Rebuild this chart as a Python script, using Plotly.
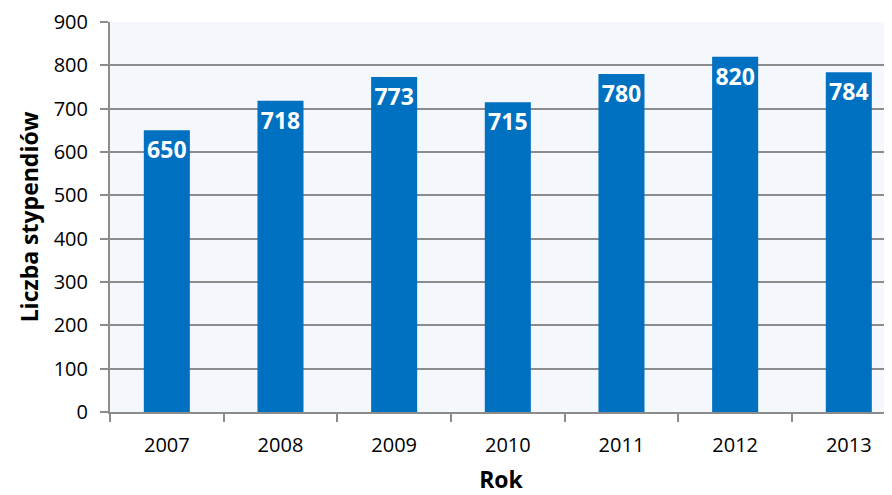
import plotly.graph_objects as go

years = ['2007', '2008', '2009', '2010', '2011', '2012', '2013']
stypendia = [650, 718, 773, 715, 780, 820, 784]
y_ticks = [0, 100, 200, 300, 400, 500, 600, 700, 800, 900]

font = 'Open Sans'
grid = '#8C8C8C'

fig = go.Figure()
fig.add_trace(go.Bar(
    x=years,
    y=stypendia,
    width=0.405,
    marker=dict(color='#0070C0', line=dict(width=0)),
    text=[str(v) for v in stypendia],
    textposition='inside',
    insidetextanchor='end',
    textangle=0,
    insidetextfont=dict(family=font, size=23, color='white', weight='bold'),
    cliponaxis=False,
))

# page body has an 8px margin, so the figure is a bit smaller than the window
fig.update_layout(
    width=884,
    height=487,
    margin=dict(l=102, r=0, t=14, b=83),
    paper_bgcolor='white',
    plot_bgcolor='#F4F8FC',
    font=dict(family=font, color='black'),
    showlegend=False,
)
fig.update_xaxes(
    type='category',
    range=[-0.5, 6.38],
    automargin=False,
    showline=True,
    linecolor=grid,
    linewidth=2,
    ticks='outside',
    tickson='boundaries',
    ticklen=8,
    tickcolor=grid,
    tickwidth=1.5,
    ticklabelstandoff=14,
    showgrid=False,
    tickfont=dict(size=20),
    title=dict(text='Rok', font=dict(size=23, weight='bold'), standoff=24),
)
fig.update_yaxes(
    range=[0, 900],
    tickvals=y_ticks,
    automargin=False,
    showline=True,
    linecolor=grid,
    linewidth=2,
    ticks='outside',
    ticklen=8,
    tickcolor=grid,
    tickwidth=1.5,
    ticklabelstandoff=8,
    showgrid=True,
    gridcolor=grid,
    gridwidth=1.5,
    zeroline=False,
    tickfont=dict(size=20),
    title=dict(text='Liczba stypendiów', font=dict(size=23, weight='bold'), standoff=9),
)

fig.write_html('out.html')
